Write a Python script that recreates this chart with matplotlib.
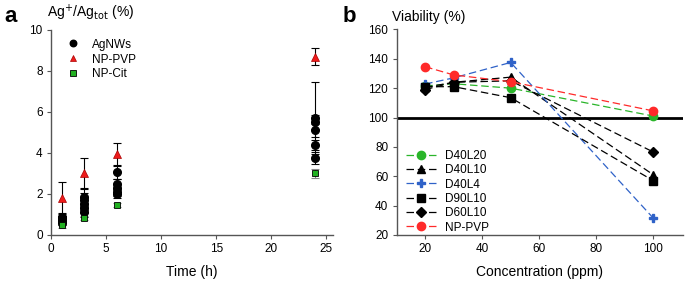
import matplotlib.pyplot as plt
import numpy as np

plt.rcParams['font.family'] = ['Liberation Sans', 'DejaVu Sans']

# panel a: released Ag+ fraction
time_h = [1, 3, 6, 24]
agnw_vals = [
    [0.90, 1.85, 3.05, 5.70],
    [0.80, 1.70, 2.50, 5.50],
    [0.70, 1.50, 2.30, 5.10],
    [0.60, 1.30, 2.10, 4.40],
    [0.85, 1.10, 2.00, 3.75],
]
agnw_err = [
    [0.15, 0.45, 0.30, 1.75],
    [0.10, 0.35, 0.25, 0.35],
    [0.10, 0.30, 0.20, 0.30],
    [0.10, 0.25, 0.20, 0.25],
    [0.10, 0.20, 0.20, 0.30],
]
pvp_vals = [1.8, 3.0, 3.95, 8.7]
pvp_err = [0.8, 0.77, 0.55, 0.4]
cit_vals = [0.5, 0.85, 1.45, 3.0]
cit_err = [0.15, 0.1, 0.1, 0.2]

# panel b: viability
conc = [20, 30, 50, 100]
viab_names = ['D40L20', 'D40L10', 'D40L4', 'D90L10', 'D60L10', 'NP-PVP']
viab_vals = [
    [121.5, 123.0, 120.0, 101.0],
    [120.5, 124.0, 127.5, 61.0],
    [122.8, 127.0, 137.5, 31.5],
    [121.0, 121.0, 113.5, 57.0],
    [119.0, 124.0, 125.0, 76.5],
    [134.6, 129.0, 124.4, 104.5],
]
viab_colors = ['#2ab52a', 'black', '#2f62c8', 'black', 'black', '#ff2a2a']
viab_markers = ['o', '^', 'P', 's', 'D', 'o']
viab_ms = [6, 6, 6, 5.5, 5, 6]

fig = plt.figure(figsize=(6.85, 2.82), dpi=100)
axa = fig.add_axes([0.0745, 0.1667, 0.4115, 0.727])
axb = fig.add_axes([0.579, 0.1667, 0.418, 0.729])

spine_col = '#555555'
for ax in (axa, axb):
    for s in ('top', 'right'):
        ax.spines[s].set_visible(False)
    for s in ('left', 'bottom'):
        ax.spines[s].set_color(spine_col)
        ax.spines[s].set_linewidth(1.0)
    ax.tick_params(direction='out', length=3, width=0.8, color=spine_col,
                   labelsize=8.5, pad=3)

# ---- panel a
for v, e in zip(agnw_vals, agnw_err):
    axa.errorbar(time_h, v, yerr=e, fmt='none', ecolor='black',
                 elinewidth=0.8, capsize=3, capthick=0.8, zorder=2)
axa.errorbar(time_h, pvp_vals, yerr=pvp_err, fmt='none', ecolor='black',
             elinewidth=0.8, capsize=3, capthick=0.8, zorder=2)
axa.errorbar(time_h, cit_vals, yerr=cit_err, fmt='none', ecolor='#888888',
             elinewidth=0.8, capsize=3, capthick=0.8, zorder=2)
for i, v in enumerate(agnw_vals):
    axa.plot(time_h, v, 'o', color='black', ms=5.5, ls='none', zorder=3,
             label='AgNWs' if i == 0 else None)
axa.plot(time_h, pvp_vals, '^', mfc='#ee1c1c', mec='#aa0000', ms=5.5,
         mew=0.5, ls='none', zorder=4, label='NP-PVP')
axa.plot(time_h, cit_vals, 's', mfc='#22b022', mec='black', ms=5,
         mew=0.6, ls='none', zorder=4, label='NP-Cit')

axa.set_xlim(0, 25.6)
axa.set_ylim(0, 10)
axa.set_xticks([0, 5, 10, 15, 20, 25])
axa.set_yticks([0, 2, 4, 6, 8, 10])
axa.set_xlabel('Time (h)', fontsize=10, labelpad=7)
axa.legend(loc='upper left', bbox_to_anchor=(0.0, 1.01), frameon=False,
           fontsize=8.5, handletextpad=0.6, labelspacing=0.25,
           markerscale=0.85)
fig.text(0.068, 0.955, r'Ag$^{+}$/Ag$_{\mathrm{tot}}$ (%)', fontsize=10,
         va='center', ha='left')
fig.text(0.006, 0.94, 'a', fontsize=16, fontweight='bold', va='center')

# ---- panel b
axb.axhline(100, color='black', lw=2, zorder=1)
for name, v, c, m, ms in zip(viab_names, viab_vals, viab_colors,
                             viab_markers, viab_ms):
    axb.plot(conc, v, ls=(0, (6, 3)), lw=0.9, color=c, marker=m, ms=ms,
             mfc=c, mec=c, label=name, zorder=3)

axb.set_xlim(10, 110.4)
axb.set_ylim(20, 160)
axb.set_xticks([20, 40, 60, 80, 100])
axb.set_yticks([20, 40, 60, 80, 100, 120, 140, 160])
axb.set_xlabel('Concentration (ppm)', fontsize=10, labelpad=7)
axb.legend(loc='lower left', bbox_to_anchor=(-0.005, -0.045), frameon=False,
           fontsize=8.5, handlelength=2.6, handletextpad=0.7,
           labelspacing=0.2)
fig.text(0.572, 0.94, 'Viability (%)', fontsize=10, va='center', ha='left')
fig.text(0.500, 0.94, 'b', fontsize=16, fontweight='bold', va='center')

fig.savefig('out.png', dpi=100)
